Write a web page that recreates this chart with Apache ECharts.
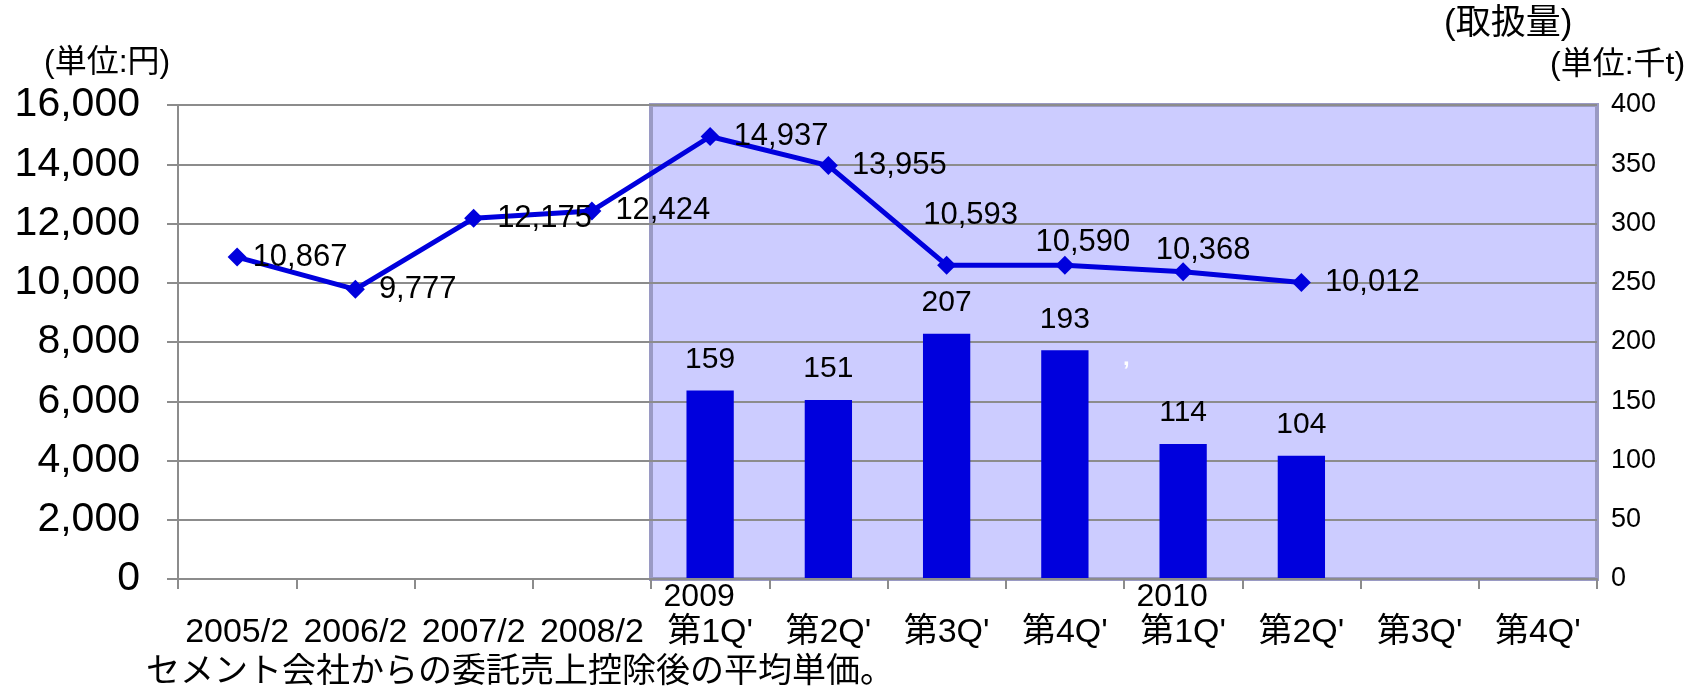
<!DOCTYPE html>
<html>
<head>
<meta charset="utf-8">
<script src="https://cdn.jsdelivr.net/npm/echarts@6/dist/echarts.min.js"></script>
<style>
  html, body { margin: 0; padding: 0; background: #fff; }
  #MainContent { width: 1692px; height: 688px; }
</style>
</head>
<body>
<div id="MainContent"></div>
<script>
// 期間ラベル
var periods = ['2005/2', '2006/2', '2007/2', '2008/2',
    "第1Q'", "第2Q'", "第3Q'", "第4Q'",
    "第1Q'", "第2Q'", "第3Q'", "第4Q'"];
var years = ['', '', '', '', '2009', '', '', '', '2010', '', '', ''];

// 平均単価 (円)
var unitPrice = [10867, 9777, 12175, 12424, 14937, 13955, 10593, 10590, 10368, 10012, null, null];
// 取扱量 (千t)
var volume = [null, null, null, null, 159, 151, 207, 193, 114, 104, null, null];

var leftTicks = { min: 0, max: 16000, interval: 2000 };
var rightTicks = { min: 0, max: 400, interval: 50 };

var FONT = "'Liberation Sans', 'Noto Sans CJK JP', sans-serif";
var BLUE = '#0000dd';
var GRID = '#8c8c8c';

function fmt(v) {
    return Number(v).toLocaleString('en-US');
}

// ラベル位置の調整
var labelTweaks = {
    0: { offset: [-8, 0] },
    6: { position: 'top', offset: [24, -11] },
    7: { position: 'top', offset: [18, 16] },
    8: { position: 'top', offset: [20, 18] }
};

function draw() {
    var chart = echarts.init(document.getElementById('MainContent'));

    var lineData = unitPrice.map(function (v, i) {
        var item = { value: v };
        if (labelTweaks[i]) item.label = labelTweaks[i];
        return item;
    });

    var option = {
        animation: false,
        textStyle: { fontFamily: FONT },
        grid: { left: 178, right: 95, top: 105, bottom: 109, containLabel: false },
        graphic: [
            { type: 'text', left: 44, top: 47, style: { text: '(単位:円)', font: '32px ' + FONT, fill: '#000' } },
            { type: 'text', left: 1444, top: 7, style: { text: '(取扱量)', font: '35px ' + FONT, fill: '#000' } },
            { type: 'text', left: 1550, top: 49, style: { text: '(単位:千t)', font: '32px ' + FONT, fill: '#000' } },
            { type: 'text', left: 146, top: 656, style: { text: 'セメント会社からの委託売上控除後の平均単価。', font: '34px ' + FONT, fill: '#000' } },
            { type: 'text', left: 1123, top: 346, z: 10, style: { text: ',', font: 'bold 24px ' + FONT, fill: '#fff' } }
        ],
        xAxis: {
            type: 'category',
            data: periods,
            axisLine: { lineStyle: { color: GRID, width: 2 } },
            axisTick: { show: true, length: 10, lineStyle: { color: GRID, width: 2 } },
            axisLabel: {
                interval: 0,
                margin: 0,
                color: '#000',
                fontSize: 34,
                lineHeight: 36,
                formatter: function (value, index) {
                    var y = years[index];
                    return (y ? '{y|' + y + '}' : ' ') + '\n' + value;
                },
                rich: {
                    y: { fontSize: 32, lineHeight: 36, padding: [0, 22, 0, 0], color: '#000' }
                }
            },
            z: 3
        },
        yAxis: [{
            type: 'value',
            min: leftTicks.min,
            max: leftTicks.max,
            interval: leftTicks.interval,
            z: 1.5,
            axisLine: { show: true, lineStyle: { color: GRID, width: 2 } },
            axisTick: { show: true, length: 11, lineStyle: { color: GRID, width: 2 } },
            splitLine: { show: true, lineStyle: { color: GRID, width: 2 } },
            axisLabel: { color: '#000', fontSize: 41, margin: 38, formatter: fmt }
        }, {
            type: 'value',
            position: 'right',
            min: rightTicks.min,
            max: rightTicks.max,
            interval: rightTicks.interval,
            axisLine: { show: false },
            axisTick: { show: false },
            splitLine: { show: false },
            axisLabel: { color: '#000', fontSize: 27, margin: 14 }
        }],
        series: [{
            name: '取扱量',
            type: 'bar',
            yAxisIndex: 1,
            data: volume,
            barWidth: '40%',
            itemStyle: { color: BLUE },
            label: {
                show: true,
                position: 'top',
                distance: 16,
                color: '#000',
                fontSize: 30
            },
            markArea: {
                silent: true,
                itemStyle: { color: '#ccccff', borderColor: '#9a9ac4', borderWidth: 4 },
                data: [[{ xAxis: 4 }, { xAxis: 11 }]]
            }
        }, {
            name: '平均単価',
            type: 'line',
            yAxisIndex: 0,
            data: lineData,
            symbol: 'diamond',
            symbolSize: 19,
            itemStyle: { color: BLUE },
            lineStyle: { color: BLUE, width: 5 },
            z: 4,
            label: {
                show: true,
                position: 'right',
                distance: 14,
                color: '#000',
                fontSize: 31,
                formatter: function (p) { return fmt(p.value); }
            }
        }]
    };

    chart.setOption(option);
    window.onresize = chart.resize;
}

draw();
</script>
</body>
</html>
